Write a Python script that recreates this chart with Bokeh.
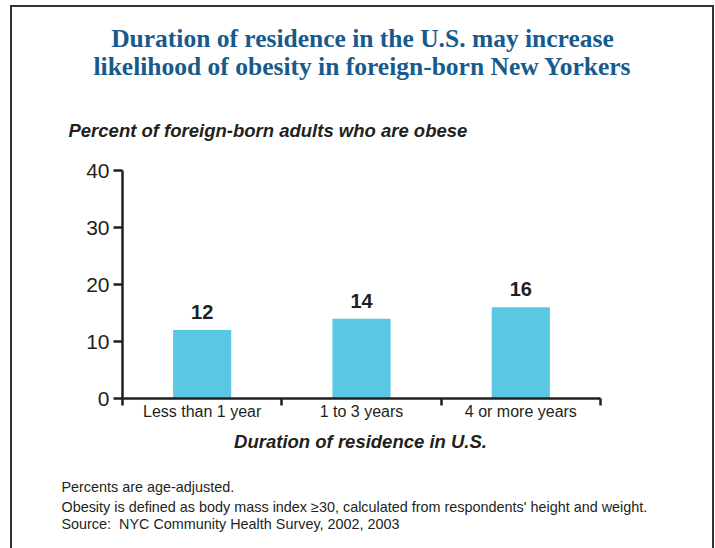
from bokeh.plotting import figure
from bokeh.models import (ColumnDataSource, Range1d, FactorRange, LinearAxis, CategoricalAxis,
                          FixedTicker, Label, LabelSet, InlineStyleSheet)
from bokeh.core.properties import value
from bokeh.embed import file_html
from bokeh.resources import INLINE

categories = ["Less than 1 year", "1 to 3 years", "4 or more years"]
values = [12, 14, 16]
value_labels = ["12", "14", "16"]
y_ticks = [0, 10, 20, 30, 40]

title_lines = ["Duration of residence in the U.S. may increase",
               "likelihood of obesity in foreign-born New Yorkers"]
subtitle = "Percent of foreign-born adults who are obese"
x_title = "Duration of residence in U.S."
notes = ["Percents are age-adjusted.",
         "Obesity is defined as body mass index \u226530, calculated from respondents' height and weight.",
         "Source:\u00a0 NYC Community Health Survey, 2002, 2003"]

INK = "#231f20"
SANS = "Liberation Sans"

src = ColumnDataSource(dict(cat=categories, val=values, lab=value_labels))

p = figure(width=715, height=548, output_backend="svg", toolbar_location=None,
           x_range=FactorRange(*categories, range_padding=0), y_range=Range1d(0, 40),
           x_axis_location=None, min_border_left=122, min_border_right=115,
           min_border_top=170, min_border_bottom=150)
p.outline_line_color = None
p.grid.visible = False
p.background_fill_color = "white"
p.border_fill_color = "white"

p.vbar(x="cat", top="val", width=0.365, source=src, fill_color="#5bc8e3", line_color=None)

# y axis
ya = p.yaxis[0]
ya.ticker = FixedTicker(ticks=y_ticks)
ya.axis_line_width = 2.5
ya.axis_line_color = INK
ya.major_tick_line_width = 2.5
ya.major_tick_line_color = INK
ya.major_tick_out = 9
ya.major_tick_in = 0
ya.minor_tick_line_color = None
ya.major_label_text_font = SANS
ya.major_label_text_font_size = "21px"
ya.major_label_text_color = INK
ya.major_label_standoff = 4

# x axis: boundary ticks between categories (synthetic coordinates 0..3)
bounds = list(range(len(categories) + 1))
ta = LinearAxis(ticker=FixedTicker(ticks=bounds),
                major_label_overrides={i: "" for i in bounds})
ta.axis_line_width = 2.5
ta.axis_line_color = INK
ta.major_tick_line_width = 2.5
ta.major_tick_line_color = INK
ta.major_tick_out = 7
ta.major_tick_in = 0
ta.minor_tick_line_color = None
ta.major_label_standoff = 0
ta.major_label_text_font_size = "0px"
p.add_layout(ta, "below")

ca = CategoricalAxis()
ca.axis_line_color = None
ca.major_tick_line_color = None
ca.major_tick_out = 0
ca.major_tick_in = 0
ca.major_label_standoff = -3
ca.major_label_text_font = SANS
ca.major_label_text_font_size = "16px"
ca.major_label_text_color = INK
p.add_layout(ca, "below")

# value labels
p.add_layout(LabelSet(x="cat", y="val", text="lab", source=src, text_align="center",
                      text_baseline="bottom", y_offset=11, text_font=value(SANS),
                      text_font_size="20px", text_font_style="bold", text_color=INK))

# titles and notes in data units (x synthetic 0..3, y in percent), placed in side panels
for txt, y in zip(title_lines, [63.2, 58.3]):
    p.add_layout(Label(x=1.506, y=y, text=txt,
                       text_align="center", text_baseline="middle", text_font="Liberation Serif",
                       text_font_size="25.5px", text_font_style="bold", text_color="#185a8c"), "above")

p.add_layout(Label(x=-0.339, y=47.0, text=subtitle,
                   text_align="left", text_baseline="middle", text_font=SANS,
                   text_font_size="18.5px", text_font_style="bold italic", text_color=INK), "above")

p.add_layout(Label(x=1.494, y=-7.5, text=x_title,
                   text_align="center", text_baseline="middle", text_font=SANS,
                   text_font_size="18.5px", text_font_style="bold italic", text_color=INK), "below")

for txt, y in zip(notes, [-15.6, -19.1, -22.1]):
    p.add_layout(Label(x=-0.383, y=y, text=txt,
                       text_align="left", text_baseline="middle", text_font=SANS,
                       text_font_size="14.4px", text_color=INK), "below")

# outer frame of the figure panel
p.stylesheets = [InlineStyleSheet(css=(
    ":host { position: relative; }"
    ":host::after { content: ''; position: absolute; left: 10px; top: 5px; width: 704px; "
    "height: 570px; border: 2px solid #333333; box-sizing: border-box; "
    "pointer-events: none; z-index: 10; }"))]

open("out.html", "w").write(file_html(p, INLINE))
